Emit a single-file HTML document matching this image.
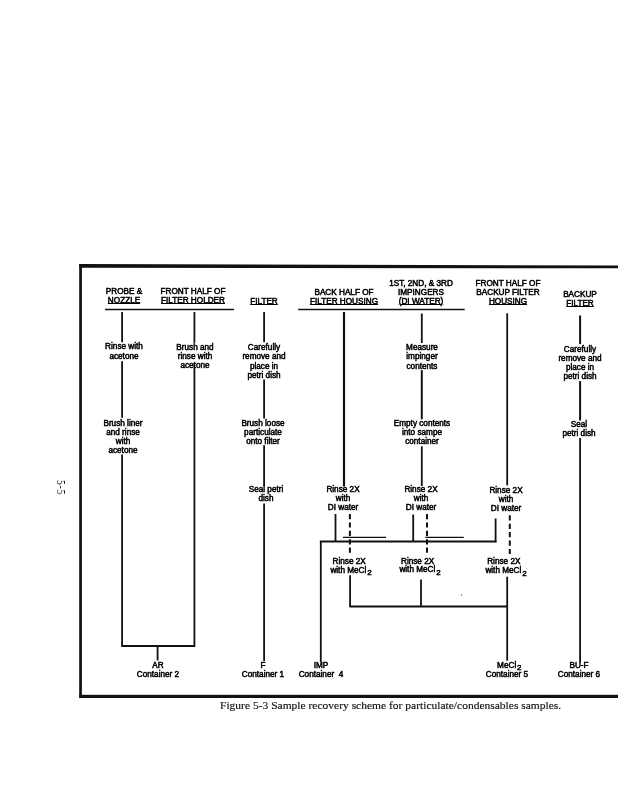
<!DOCTYPE html>
<html><head><meta charset="utf-8">
<style>
html,body{margin:0;padding:0;background:#fff;}
body{width:618px;height:800px;position:relative;overflow:hidden;}
.t{position:absolute;font-family:"Liberation Sans",sans-serif;font-size:8.2px;line-height:8.8px;text-align:center;color:#000;white-space:nowrap;-webkit-text-stroke:0.5px #000;will-change:transform;}
.t u{text-decoration:underline;text-decoration-thickness:1.3px;text-underline-offset:0.3px;}
.sb{font-size:8px;line-height:0;position:relative;top:2.8px;margin-left:0.8px;}
svg{position:absolute;left:0;top:0;}
.cap{position:absolute;font-family:"Liberation Serif",serif;font-size:11px;line-height:13px;color:#111;transform:scaleX(1.046);-webkit-text-stroke:0.15px #111;transform-origin:0 0;will-change:transform;white-space:nowrap;}
.pg{position:absolute;font-family:"Liberation Serif",serif;font-size:12px;letter-spacing:1.0px;line-height:14px;color:#111;transform:rotate(90deg) scaleX(0.8);transform-origin:0 0;white-space:nowrap;will-change:transform;}
</style></head><body>
<svg width="618" height="800" viewBox="0 0 618 800">
<g stroke="#111" fill="none">
<line x1="105.00" y1="309.50" x2="234.00" y2="309.50" stroke-width="1.50"/>
<line x1="298.20" y1="309.50" x2="464.70" y2="309.50" stroke-width="1.50"/>
<line x1="122.10" y1="312.00" x2="122.10" y2="342.20" stroke-width="1.80"/>
<line x1="122.10" y1="361.30" x2="122.10" y2="417.80" stroke-width="1.80"/>
<line x1="122.10" y1="454.60" x2="122.10" y2="646.80" stroke-width="1.80"/>
<line x1="194.40" y1="312.00" x2="194.40" y2="342.70" stroke-width="1.80"/>
<line x1="194.40" y1="362.90" x2="194.40" y2="646.80" stroke-width="1.80"/>
<line x1="121.40" y1="646.00" x2="195.10" y2="646.00" stroke-width="2.00"/>
<line x1="157.60" y1="646.00" x2="157.60" y2="660.50" stroke-width="1.80"/>
<line x1="264.10" y1="312.00" x2="264.10" y2="342.20" stroke-width="1.80"/>
<line x1="264.10" y1="379.60" x2="264.10" y2="418.40" stroke-width="1.80"/>
<line x1="264.10" y1="445.30" x2="264.10" y2="486.10" stroke-width="1.80"/>
<line x1="264.10" y1="503.50" x2="264.10" y2="661.00" stroke-width="1.80"/>
<line x1="344.00" y1="312.00" x2="344.00" y2="486.50" stroke-width="2.20"/>
<line x1="421.80" y1="313.50" x2="421.80" y2="343.00" stroke-width="1.80"/>
<line x1="421.80" y1="370.20" x2="421.80" y2="419.30" stroke-width="2.00"/>
<line x1="421.80" y1="446.30" x2="421.80" y2="486.00" stroke-width="1.80"/>
<line x1="507.20" y1="313.30" x2="507.20" y2="485.40" stroke-width="1.80"/>
<line x1="580.10" y1="315.50" x2="580.10" y2="344.10" stroke-width="2.00"/>
<line x1="580.10" y1="381.10" x2="580.10" y2="420.50" stroke-width="2.00"/>
<line x1="580.10" y1="438.00" x2="580.10" y2="662.00" stroke-width="1.80"/>
<line x1="335.50" y1="514.00" x2="335.50" y2="541.80" stroke-width="1.80"/>
<line x1="413.20" y1="514.50" x2="413.20" y2="541.80" stroke-width="1.80"/>
<line x1="495.60" y1="518.50" x2="495.60" y2="542.20" stroke-width="1.80"/>
<line x1="319.90" y1="541.60" x2="496.50" y2="541.60" stroke-width="2.00"/>
<line x1="343.00" y1="537.40" x2="386.00" y2="537.40" stroke-width="1.40"/>
<line x1="425.30" y1="537.40" x2="463.80" y2="537.40" stroke-width="1.40"/>
<line x1="320.80" y1="541.00" x2="320.80" y2="662.30" stroke-width="1.80"/>
<line x1="349.90" y1="514.00" x2="349.90" y2="553.50" stroke-width="2.00" stroke-dasharray="5.2 3.2"/>
<line x1="427.00" y1="514.00" x2="427.00" y2="553.50" stroke-width="2.00" stroke-dasharray="5.2 3.2"/>
<line x1="509.80" y1="515.30" x2="509.80" y2="555.50" stroke-width="2.00" stroke-dasharray="5.2 3.2"/>
<line x1="350.10" y1="575.20" x2="350.10" y2="607.00" stroke-width="1.80"/>
<line x1="421.00" y1="579.50" x2="421.00" y2="607.00" stroke-width="1.80"/>
<line x1="507.20" y1="576.70" x2="507.20" y2="660.70" stroke-width="1.80"/>
<line x1="349.50" y1="606.50" x2="507.80" y2="606.50" stroke-width="1.80"/>
</g>
<circle cx="461.5" cy="595" r="0.7" fill="#555"/>
<polygon points="79.2,264.1 618,265.4 618,268.3 79.2,267.7" fill="#111"/>
<rect x="79.2" y="264" width="2.7" height="433.8" fill="#111"/>
<rect x="79.2" y="694.8" width="560" height="3.2" fill="#111"/>
</svg>
<div class="t" style="left:78.60px;top:288.20px;width:90px;line-height:8.80px;">PROBE &amp;<br><u>NOZZLE</u></div>
<div class="t" style="left:147.70px;top:288.40px;width:90px;line-height:8.90px;">FRONT HALF OF<br><u>FILTER HOLDER</u></div>
<div class="t" style="left:298.70px;top:289.00px;width:90px;line-height:8.80px;">BACK HALF OF<br><u>FILTER HOUSING</u></div>
<div class="t" style="left:218.70px;top:297.60px;width:90px;line-height:8.80px;"><u>FILTER</u></div>
<div class="t" style="left:376.40px;top:280.00px;width:90px;line-height:8.80px;">1ST, 2ND, &amp; 3RD<br>IMPINGERS<br><u>(DI WATER)</u></div>
<div class="t" style="left:462.60px;top:280.20px;width:90px;line-height:8.80px;">FRONT HALF OF<br>BACKUP FILTER<br><u>HOUSING</u></div>
<div class="t" style="left:535.20px;top:290.60px;width:90px;line-height:8.80px;">BACKUP<br><u>FILTER</u></div>
<div class="t" style="left:79.10px;top:342.40px;width:90px;line-height:9.50px;">Rinse with<br>acetone</div>
<div class="t" style="left:149.50px;top:343.00px;width:90px;line-height:9.10px;">Brush and<br>rinse with<br>acetone</div>
<div class="t" style="left:218.70px;top:342.50px;width:90px;line-height:9.37px;">Carefully<br>remove and<br>place in<br>petri dish</div>
<div class="t" style="left:376.60px;top:342.80px;width:90px;line-height:9.30px;">Measure<br>impinger<br>contents</div>
<div class="t" style="left:534.50px;top:346.10px;width:90px;line-height:8.97px;">Carefully<br>remove and<br>place in<br>petri dish</div>
<div class="t" style="left:78.30px;top:419.65px;width:90px;line-height:8.92px;">Brush liner<br>and rinse<br>with<br>acetone</div>
<div class="t" style="left:218.30px;top:418.80px;width:90px;line-height:9.05px;">Brush loose<br>particulate<br>onto filter</div>
<div class="t" style="left:376.50px;top:419.70px;width:90px;line-height:8.90px;">Empty contents<br>into sampe<br>container</div>
<div class="t" style="left:534.30px;top:420.10px;width:90px;line-height:9.35px;">Seal<br>petri dish</div>
<div class="t" style="left:221.30px;top:486.20px;width:90px;line-height:8.50px;">Seal petri<br>dish</div>
<div class="t" style="left:298.20px;top:485.10px;width:90px;line-height:9.07px;">Rinse 2X<br>with<br>DI water</div>
<div class="t" style="left:375.50px;top:485.10px;width:90px;line-height:9.05px;">Rinse 2X<br>with<br>DI water</div>
<div class="t" style="left:461.10px;top:486.70px;width:90px;line-height:8.90px;">Rinse 2X<br>with<br>DI water</div>
<div class="t" style="left:305.80px;top:557.90px;width:90px;line-height:8.60px;"><span style="position:relative;left:-1.8px">Rinse 2X</span><br>with MeCl<span class="sb">2</span></div>
<div class="t" style="left:375.10px;top:557.80px;width:90px;line-height:8.40px;"><span style="position:relative;left:-2.4px">Rinse 2X</span><br>with MeCl<span class="sb">2</span></div>
<div class="t" style="left:461.30px;top:557.20px;width:90px;line-height:9.30px;"><span style="position:relative;left:-2.2px">Rinse 2X</span><br>with MeCl<span class="sb">2</span></div>
<div class="t" style="left:112.80px;top:661.00px;width:90px;line-height:9.00px;">AR<br>Container 2</div>
<div class="t" style="left:218.10px;top:661.00px;width:90px;line-height:9.00px;">F<br>Container 1</div>
<div class="t" style="left:275.80px;top:662.00px;width:90px;line-height:8.90px;">IMP<br>Container&nbsp; 4</div>
<div class="t" style="left:462.10px;top:662.00px;width:90px;line-height:8.70px;"><span style="position:relative;left:2.3px">MeCl<span class="sb" style="top:1.6px">2</span></span><br>Container 5</div>
<div class="t" style="left:534.10px;top:661.30px;width:90px;line-height:9.20px;">BU-F<br>Container 6</div>
<div class="cap" style="left:220.3px;top:699.3px;">Figure 5-3 Sample recovery scheme for particulate/condensables samples.</div>
<div class="pg" style="left:68px;top:479.5px;">5-5</div>
</body></html>
